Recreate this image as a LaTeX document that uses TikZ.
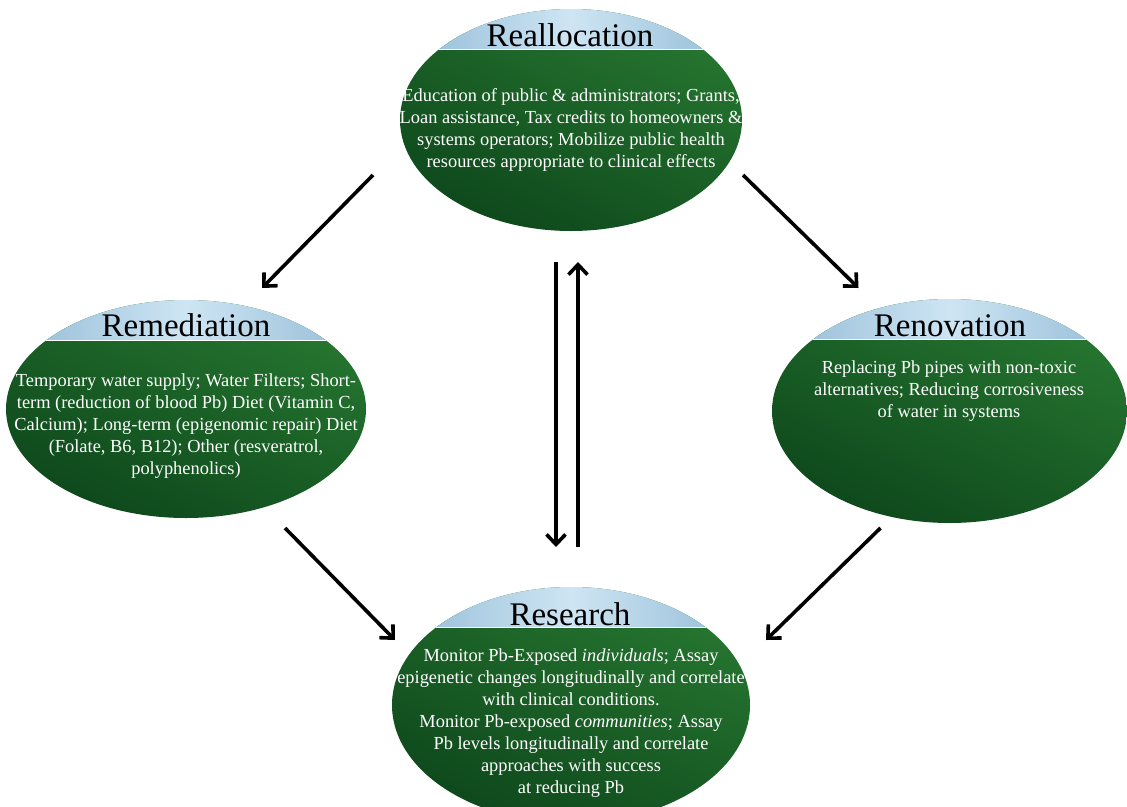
\documentclass[tikz,border=0pt]{standalone}
\usepackage{fontspec}
\setmainfont{Liberation Serif}
\usetikzlibrary{shapes.geometric,arrows.meta,calc}
\definecolor{leafgreen}{RGB}{38,118,48}
\definecolor{deepgreen}{RGB}{14,72,28}
\definecolor{skyband}{RGB}{206,229,243}
\definecolor{skyedge}{RGB}{145,186,214}
\tikzstyle{pod}=[ellipse, inner sep=0pt, outer sep=0pt, top color=leafgreen, bottom color=deepgreen, shading angle=-25,
	path picture={
		\shade[left color=skyedge, right color=skyedge, middle color=skyband] (path picture bounding box.north west) rectangle ([yshift=-40pt]path picture bounding box.north east);
		\draw[white, line width=0.8pt] ([yshift=-40pt]path picture bounding box.north west) -- ([yshift=-40pt]path picture bounding box.north east);
	}]
\tikzstyle{podhead}=[font=\fontsize{33}{36}\selectfont]
\tikzstyle{podtext}=[text=white, align=center, font=\fontsize{18.4}{22}\selectfont]
\tikzstyle{flow}=[line width=3.6pt, -{Straight Barb[length=10pt,width=19pt]}]

\begin{document}
\begin{tikzpicture}[x=1pt,y=-1pt]
	\useasboundingbox (0,0) rectangle (1127,806);
	\node[pod, minimum width=342, minimum height=222] (realloc) at (571,120) {};
	\node[pod, minimum width=360, minimum height=218] (remed) at (186,409) {};
	\node[pod, minimum width=355, minimum height=224] (renov) at (949.5,411) {};
	\node[pod, minimum width=358, minimum height=236] (research) at (571,705) {};
	\node[podhead] (reallochead) at (570,35) {Reallocation};
	\node[podhead] (remedhead) at (186,325) {Remediation};
	\node[podhead] (renovhead) at (950,326) {Renovation};
	\node[podhead] (researchhead) at (570,614) {Research};
	\node[podtext] (realloctext) at (571,130) {Education of public \& administrators; Grants,\\ Loan assistance, Tax credits to homeowners \&\\ systems operators; Mobilize public health\\ resources appropriate to clinical effects};
	\node[podtext] (remedtext) at (186,426) {Temporary water supply; Water Filters; Short-\\ term (reduction of blood Pb) Diet (Vitamin C,\\ Calcium); Long-term (epigenomic repair) Diet\\ (Folate, B6, B12); Other (resveratrol,\\ polyphenolics)};
	\node[podtext] (renovtext) at (949,391) {Replacing Pb pipes with non-toxic\\ alternatives; Reducing corrosiveness\\ of water in systems};
	\node[podtext] (researchtext) at (571,723) {Monitor Pb-Exposed \textit{individuals}; Assay\\ epigenetic changes longitudinally and correlate\\ with clinical conditions.\\ Monitor Pb-exposed \textit{communities}; Assay\\ Pb levels longitudinally and correlate\\ approaches with success\\ at reducing Pb};
	\draw[flow] ([shift={(-198,55)}]realloc.center) -- ([shift={(76,-121)}]remed.center);
	\draw[flow] ([shift={(172,55)}]realloc.center) -- ([shift={(-91,-123)}]renov.center);
	\draw[flow] ([shift={(99,119)}]remed.center) -- ([shift={(-176,-65)}]research.center);
	\draw[flow] ([shift={(-69,117)}]renov.center) -- ([shift={(195,-65)}]research.center);
	\draw[flow] ([shift={(-15,142)}]realloc.center) -- ([shift={(-15,-158)}]research.center);
	\draw[flow] ([shift={(7,-158)}]research.center) -- ([shift={(7,142)}]realloc.center);
\end{tikzpicture}
\end{document}
